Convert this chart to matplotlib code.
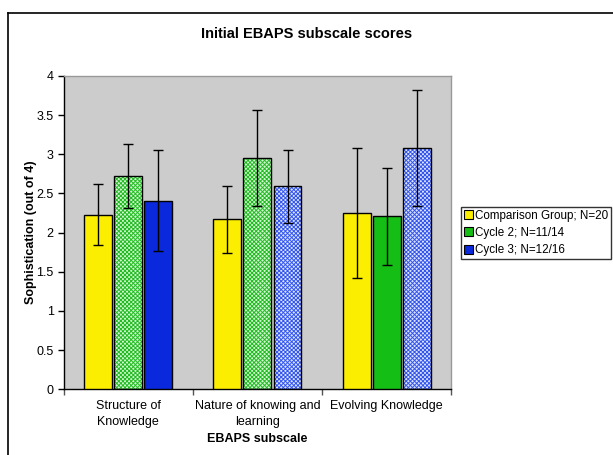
import numpy as np
import matplotlib
matplotlib.use("Agg")
import matplotlib.pyplot as plt
from matplotlib.patches import Patch
from matplotlib.lines import Line2D

plt.rcParams["font.family"] = ["Liberation Sans", "DejaVu Sans"]
plt.rcParams["hatch.linewidth"] = 0.7

categories = ["Structure of\nKnowledge", "Nature of knowing and\nlearning", "Evolving Knowledge"]
series_names = ["Comparison Group; N=20", "Cycle 2; N=11/14", "Cycle 3; N=12/16"]
comparison = [2.23, 2.17, 2.25]
cycle2 = [2.72, 2.95, 2.21]
cycle3 = [2.41, 2.59, 3.08]
comparison_err = [0.39, 0.43, 0.83]
cycle2_err = [0.41, 0.61, 0.62]
cycle3_err = [0.65, 0.47, 0.74]
# which bars are drawn with a hatched fill
cycle2_hatched = [True, True, False]
cycle3_hatched = [False, True, True]

YELLOW = "#FCEE00"
GREEN = "#14BE14"
BLUE = "#0A28DC"
GREEN_LIGHT = "#D2F7D2"
BLUE_LIGHT = "#DCE4FF"
GREEN_HATCH = "#22BB22"
BLUE_HATCH = "#3355EE"

fig = plt.figure(figsize=(6.13, 4.55), dpi=100)
ax = fig.add_axes([0.1036, 0.1444, 0.6326, 0.6886])
ax.set_facecolor("#CCCCCC")

x = np.arange(len(categories))
w = 0.216
off = 0.233


def draw_series(pos, vals, errs, color, hatched=None, light=None, hcolor=None):
    for i, (p, v, e) in enumerate(zip(pos, vals, errs)):
        if hatched is not None and hatched[i]:
            ax.bar(p, v, w, color=light, edgecolor=hcolor, hatch="xxxxxxxx",
                   linewidth=0, zorder=2)
            ax.bar(p, v, w, facecolor="none", edgecolor="black", linewidth=1.0, zorder=3)
        else:
            ax.bar(p, v, w, color=color, edgecolor="black", linewidth=1.0, zorder=3)
        ax.errorbar(p, v, yerr=e, fmt="none", ecolor="black", elinewidth=1.0,
                    capsize=3.3, capthick=1.0, zorder=4)


draw_series(x - off, comparison, comparison_err, YELLOW)
draw_series(x, cycle2, cycle2_err, GREEN, cycle2_hatched, GREEN_LIGHT, GREEN_HATCH)
draw_series(x + off, cycle3, cycle3_err, BLUE, cycle3_hatched, BLUE_LIGHT, BLUE_HATCH)

ax.set_xlim(-0.5, 2.5)
ax.set_ylim(0, 4)
ax.set_yticks(np.arange(0, 4.01, 0.5))
ax.set_yticklabels(["0", "0.5", "1", "1.5", "2", "2.5", "3", "3.5", "4"])
ax.set_xticks(x)
ax.set_xticklabels(categories, linespacing=1.45)
ax.set_xticks([-0.5, 0.5, 1.5, 2.5], minor=True)
ax.tick_params(axis="x", which="major", length=0, pad=8, labelsize=9)
ax.tick_params(axis="x", which="minor", length=4, width=1, color="#555555")
ax.tick_params(axis="y", length=4, width=1, labelsize=9, pad=3)

for s in ["left", "bottom"]:
    ax.spines[s].set_color("black")
    ax.spines[s].set_linewidth(1.0)
for s in ["top", "right"]:
    ax.spines[s].set_color("#999999")
    ax.spines[s].set_linewidth(1.0)

ax.set_xlabel("EBAPS subscale", fontsize=9, fontweight="bold", labelpad=3)
ax.set_ylabel("Sophistication (out of 4)", fontsize=9, fontweight="bold", labelpad=0)
fig.text(0.5, 0.925, "Initial EBAPS subscale scores", ha="center", va="center",
         fontsize=10.5, fontweight="bold", transform=fig.transFigure)

handles = [Patch(facecolor=c, edgecolor="black", linewidth=0.8) for c in (YELLOW, GREEN, BLUE)]
fig.legend(handles, series_names, loc="upper left", bbox_to_anchor=(0.7516, 0.5457),
           prop={"size": 8.4}, frameon=True, fancybox=False, edgecolor="black",
           handlelength=0.8, handleheight=0.8, handletextpad=0.2, labelspacing=0.45,
           borderpad=0.25, borderaxespad=0)

# outer chart-area frame (cut off at the right and bottom)
fx = 8.3 / 613
fy = 1 - 13 / 455
fig.add_artist(Line2D([fx, fx], [-0.05, fy], color="black", lw=1.2, transform=fig.transFigure))
fig.add_artist(Line2D([fx, 1.05], [fy, fy], color="black", lw=1.2, transform=fig.transFigure))

fig.savefig("out.png", dpi=100)
plt.close(fig)
